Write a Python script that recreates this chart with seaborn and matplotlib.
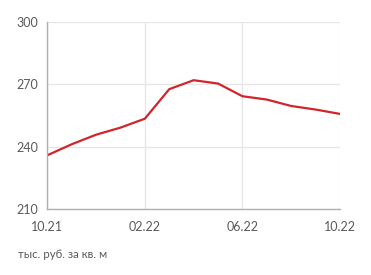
import matplotlib
matplotlib.use("Agg")
import matplotlib.pyplot as plt
import seaborn as sns
import pandas as pd

months = ["10.21", "11.21", "12.21", "01.22", "02.22", "03.22", "04.22",
          "05.22", "06.22", "07.22", "08.22", "09.22", "10.22"]
prices = [235.9, 241.2, 245.8, 249.2, 253.5, 267.7, 272.0,
          270.4, 264.3, 262.7, 259.6, 257.9, 255.8]
x_tick_labels = ["10.21", "02.22", "06.22", "10.22"]
y_ticks = [210, 240, 270, 300]
unit_label = "тыс. руб. за кв. м"

sns.set_style("white")
plt.rcParams["font.family"] = ["Lato", "DejaVu Sans"]

df = pd.DataFrame({"idx": range(len(months)), "price": prices})

fig = plt.figure(figsize=(3.71, 2.75), dpi=100)
ax = fig.add_axes([0.1275, 0.2395, 0.7889, 0.6805])
sns.lineplot(data=df, x="idx", y="price", ax=ax, color="#d0262b", linewidth=1.6)

ax.set_xlim(0, len(months) - 1)
ax.set_ylim(210, 300)
xt = [months.index(m) for m in x_tick_labels]
ax.set_xticks(xt)
ax.set_xticklabels(x_tick_labels)
ax.set_yticks(y_ticks)
ax.set_yticklabels([str(v) for v in y_ticks])
ax.set_xlabel("")
ax.set_ylabel("")

ax.grid(True, color="#e6e6e6", linewidth=0.9)
ax.set_axisbelow(True)
for s in ["top", "right"]:
    ax.spines[s].set_visible(False)
for s in ["left", "bottom"]:
    ax.spines[s].set_color("#b0b0b0")
    ax.spines[s].set_linewidth(1.0)
ax.tick_params(axis="both", colors="#b0b0b0", labelcolor="#5a5a5a",
               labelsize=9, length=4, width=1.0)
ax.tick_params(axis="y", pad=2.5)
ax.tick_params(axis="x", pad=4.5)

fig.text(17.5 / 371, 1 - 254 / 275, unit_label, fontsize=8.3, color="#5a5a5a",
         ha="left", va="center")

fig.savefig("out.png", dpi=100)
